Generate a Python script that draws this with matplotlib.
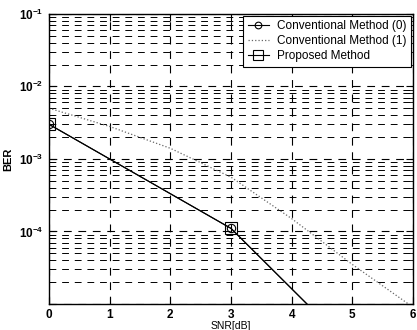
import matplotlib
matplotlib.use("Agg")
import numpy as np
import matplotlib.pyplot as plt
from matplotlib.ticker import LogLocator, FixedLocator, FuncFormatter

plt.rcParams['font.family'] = ['Liberation Sans', 'DejaVu Sans']
plt.rcParams['mathtext.default'] = 'regular'

# SNR points and BER values
snr_solid = [0, 3, 6]
ber_conv0 = [3.0e-3, 1.1e-4, 3.5e-7]
ber_prop = [3.0e-3, 1.1e-4, 3.5e-7]

snr_conv1 = [0, 1, 2, 3, 4, 5, 6]
ber_conv1 = [5.0e-3, 2.8e-3, 1.4e-3, 5.6e-4, 1.5e-4, 3.5e-5, 9.0e-6]

labels = ['Conventional Method (0)', 'Conventional Method (1)', 'Proposed Method']


def decade_label(v, pos):
    e = int(round(np.log10(v)))
    if e <= -5:
        return ''
    return r'$10^{%d}$' % e


fig = plt.figure(figsize=(4.17, 3.3), dpi=100)
ax = fig.add_axes([0.1175, 0.079, 0.873, 0.879])

ax.semilogy(snr_solid, ber_conv0, '-o', color='k', lw=0.8, ms=6,
            mfc='none', mec='k', mew=0.8, label=labels[0])
ax.semilogy(snr_conv1, ber_conv1, ':', color='0.4', lw=0.9, label=labels[1])
ax.semilogy(snr_solid, ber_prop, '-s', color='k', lw=0.8, ms=9,
            mfc='none', mec='k', mew=0.8, label=labels[2])

ax.set_xlim(0, 6)
ax.set_ylim(1e-5, 1e-1)
ax.xaxis.set_major_locator(FixedLocator([0, 1, 2, 3, 4, 5, 6]))
ax.yaxis.set_major_locator(LogLocator(base=10, numticks=10))
ax.yaxis.set_major_formatter(FuncFormatter(decade_label))
ax.yaxis.set_minor_locator(LogLocator(base=10, subs=range(2, 10), numticks=10))
ax.yaxis.set_minor_formatter(plt.NullFormatter())

# dashed grid on majors and minors
ax.grid(True, which='major', axis='both', color='k', ls=(0, (7, 6)), lw=0.8)
ax.grid(True, which='minor', axis='y', color='k', ls=(0, (7, 6)), lw=0.7)

ax.tick_params(which='both', direction='in', top=True, right=True,
               labelsize=8.5, pad=4)
ax.tick_params(which='major', length=5)
ax.tick_params(which='minor', length=3)
for lbl in ax.get_xticklabels() + ax.get_yticklabels():
    lbl.set_fontweight('bold')
for sp in ax.spines.values():
    sp.set_linewidth(1.0)

ax.set_xlabel('SNR[dB]', fontsize=7.5, labelpad=0)
ax.set_ylabel('BER', fontsize=8, fontweight='bold', labelpad=4)

leg = ax.legend(loc='upper right', fontsize=8.5, frameon=True, fancybox=False,
                edgecolor='k', framealpha=1, borderpad=0.4, labelspacing=0.25,
                handlelength=1.8, handletextpad=0.7, borderaxespad=0.15,
                markerscale=0.8)
leg.get_frame().set_linewidth(0.8)

fig.savefig('out.png', dpi=100)
